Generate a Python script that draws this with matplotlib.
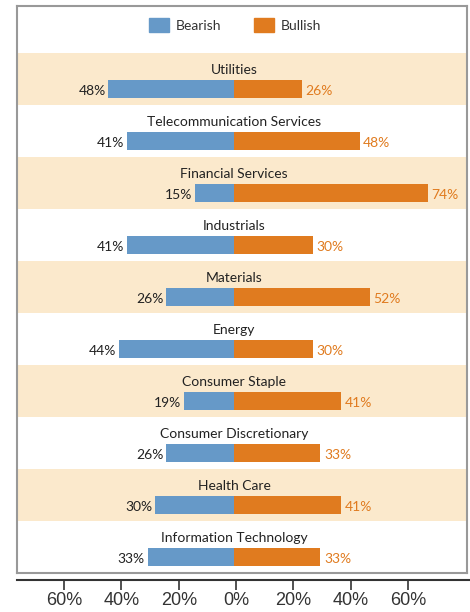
import numpy as np
import matplotlib.pyplot as plt
from matplotlib.patches import Patch

plt.rcParams['font.family'] = ['Lato', 'DejaVu Sans']

sectors = ['Utilities', 'Telecommunication Services', 'Financial Services', 'Industrials',
           'Materials', 'Energy', 'Consumer Staple', 'Consumer Discretionary',
           'Health Care', 'Information Technology']
bearish = [48, 41, 15, 41, 26, 44, 19, 26, 30, 33]
bullish = [26, 48, 74, 30, 52, 30, 41, 33, 41, 33]
axis_ticks = [-60, -40, -20, 0, 20, 40, 60]

blue = '#6699C8'
orange = '#E07B1F'
beige = '#FBE9CC'

W, H = 470, 612
fig = plt.figure(figsize=(W / 100, H / 100), dpi=100)

# main panel (legend + rows)
ax = fig.add_axes([17 / W, (H - 573) / H, 450 / W, 567 / H])
ax.set_xlim(-82.8, 88.9)
ax.set_ylim(10, -0.904)
ax.set_xticks([])
ax.set_yticks([])
for s in ax.spines.values():
    s.set_color('#999999')
    s.set_linewidth(1.5)

n = len(sectors)
y = np.arange(n)
for i in range(0, n, 2):
    ax.axhspan(i, i + 1, color=beige, lw=0, zorder=0)

bar_y = y + 0.692
ax.barh(bar_y, [-b for b in bearish], height=0.346, color=blue, zorder=2)
ax.barh(bar_y, bullish, height=0.346, color=orange, zorder=2)

for i in range(n):
    ax.text(0, y[i] + 0.327, sectors[i], ha='center', va='center', fontsize=10, color='#222222')
    ax.text(-bearish[i] - 1.0, bar_y[i] + 0.03, f'{bearish[i]}%', ha='right', va='center',
            fontsize=10, color='#222222')
    ax.text(bullish[i] + 1.3, bar_y[i] + 0.03, f'{bullish[i]}%', ha='left', va='center',
            fontsize=10, color=orange)

handles = [Patch(color=blue, label='Bearish'), Patch(color=orange, label='Bullish')]
ax.legend(handles=handles, loc='center', bbox_to_anchor=(0.485, 0.966), ncol=2,
          frameon=False, fontsize=10, handlelength=1.4, handleheight=1.15,
          columnspacing=2.4, handletextpad=0.5, labelcolor='#333333')

# bottom axis
ax2 = fig.add_axes([17 / W, (H - 580) / H, 453 / W, 0.001])
ax2.set_xlim(-76.4, 81.6)
ax2.set_yticks([])
ax2.patch.set_visible(False)
for side in ['left', 'right', 'top']:
    ax2.spines[side].set_visible(False)
ax2.spines['bottom'].set_color('#333333')
ax2.spines['bottom'].set_linewidth(1.5)
ax2.set_xticks(axis_ticks)
ax2.set_xticklabels([f'{abs(t)}%' for t in axis_ticks], family='Liberation Sans')
ax2.tick_params(axis='x', length=7.5, width=1.2, color='#333333', labelsize=13,
                labelcolor='#333333', pad=1)

fig.savefig('out.png', dpi=100)
